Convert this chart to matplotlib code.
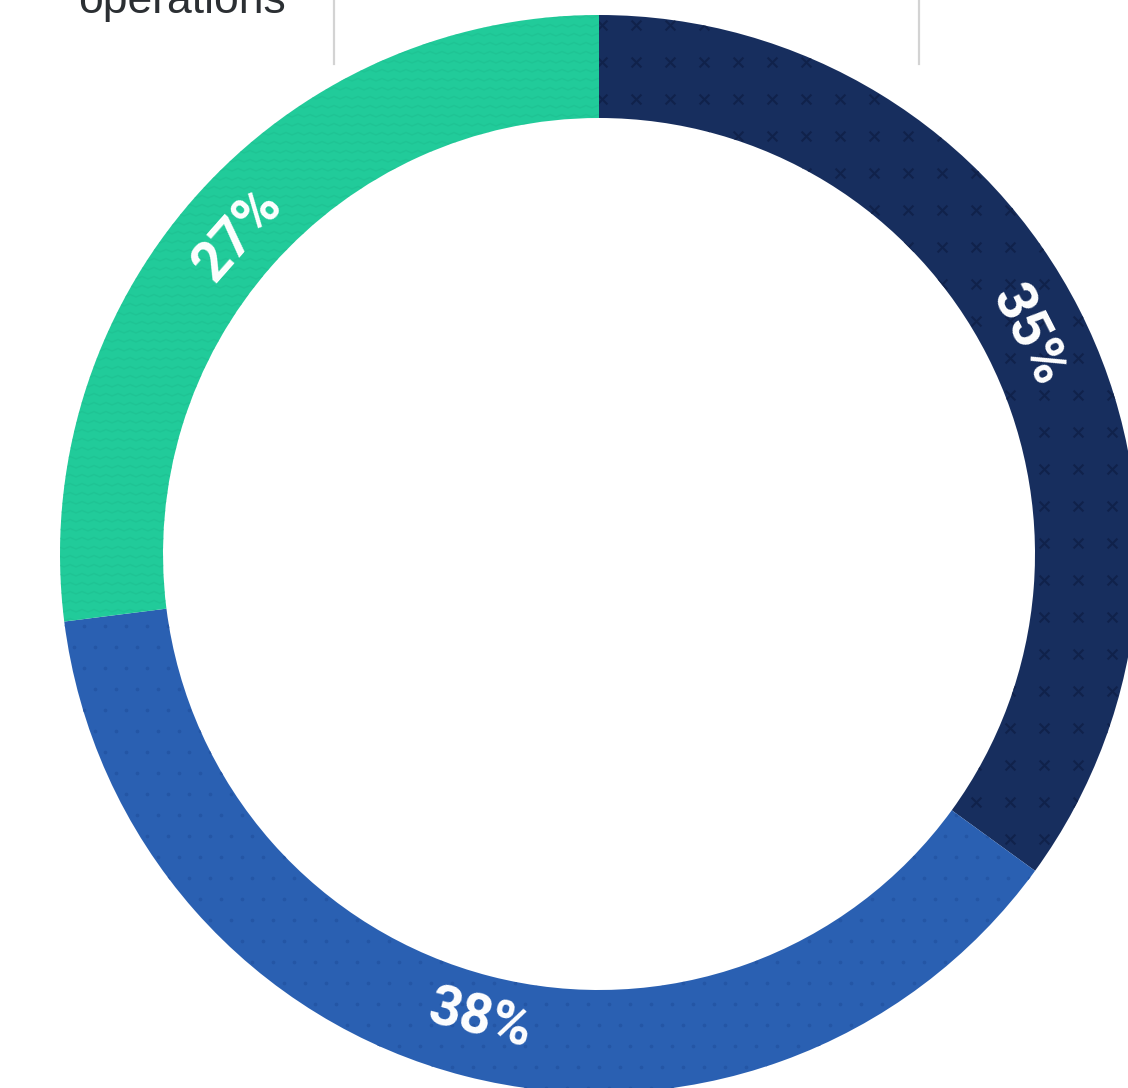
import numpy as np
import matplotlib.pyplot as plt

# Share of responses per segment, clockwise from 12 o'clock
labels = ["35%", "38%", "27%"]
shares = [35, 38, 27]
colors = ["#172e5e", "#2a60b2", "#21cb9a"]
header_text = "operations"

W, H = 1128, 1088
fig = plt.figure(figsize=(W / 100, H / 100), dpi=100)
ax = fig.add_axes([0, 0, 1, 1])

cx, cy = 599, H - 554
R, ring = 539, 103

wedges, _ = ax.pie(
    shares, colors=colors, startangle=90, counterclock=False,
    center=(cx, cy), radius=R, frame=True,
    wedgeprops=dict(width=ring, linewidth=0, antialiased=True),
)
ax.set_xlim(0, W)
ax.set_ylim(0, H)
ax.set_aspect("equal")
ax.axis("off")

# Subtle textures inside each ring segment
gx, gy = np.meshgrid(np.arange(-10, W + 40, 34), np.arange(-10, H + 40, 37))
sc = ax.scatter(gx.ravel(), gy.ravel(), marker="x", s=50, linewidths=1.5,
                color="#0f2048", alpha=0.85, zorder=3)
sc.set_clip_path(wedges[0])

dx, dy = np.meshgrid(np.arange(0, W + 20, 21), np.arange(0, H + 20, 21))
dx = dx + (np.arange(dx.shape[0])[:, None] % 2) * 10.5
sd = ax.scatter(dx.ravel(), dy.ravel(), marker="o", s=7, linewidths=0,
                color="#2456a5", zorder=3)
sd.set_clip_path(wedges[1])

zx = np.arange(-20, W + 20, 6.0)
for y0 in np.arange(-10, H + 20, 9.0):
    zy = y0 + 2.5 * (np.arange(len(zx)) % 2)
    (ln,) = ax.plot(zx, zy, color="#1dbd8f", lw=1.0, alpha=0.5, zorder=3)
    ln.set_clip_path(wedges[2])

# Percentage labels, rotated along the ring
r_lab = 481
cum = 0.0
for lab, s in zip(labels, shares):
    mid = 90 - 360 * (cum + s / 2) / 100
    cum += s
    t = np.deg2rad(mid)
    rot = mid - 90
    while rot > 90:
        rot -= 180
    while rot <= -90:
        rot += 180
    ax.text(cx + r_lab * np.cos(t), cy + r_lab * np.sin(t), lab,
            rotation=rot, rotation_mode="anchor", ha="center", va="center",
            color="white", fontsize=40, fontweight="bold",
            family=["Roboto", "DejaVu Sans"], zorder=5)

# Header fragment and divider rules above the chart
ax.text(78, H - 13, header_text, ha="left", va="baseline", fontsize=32,
        color="#2b2f33", family="Liberation Sans")
for x in (334, 919):
    ax.plot([x, x], [H, H - 64], color="#d3d3d3", lw=1.6, zorder=1)

fig.savefig("out.png", dpi=100)
